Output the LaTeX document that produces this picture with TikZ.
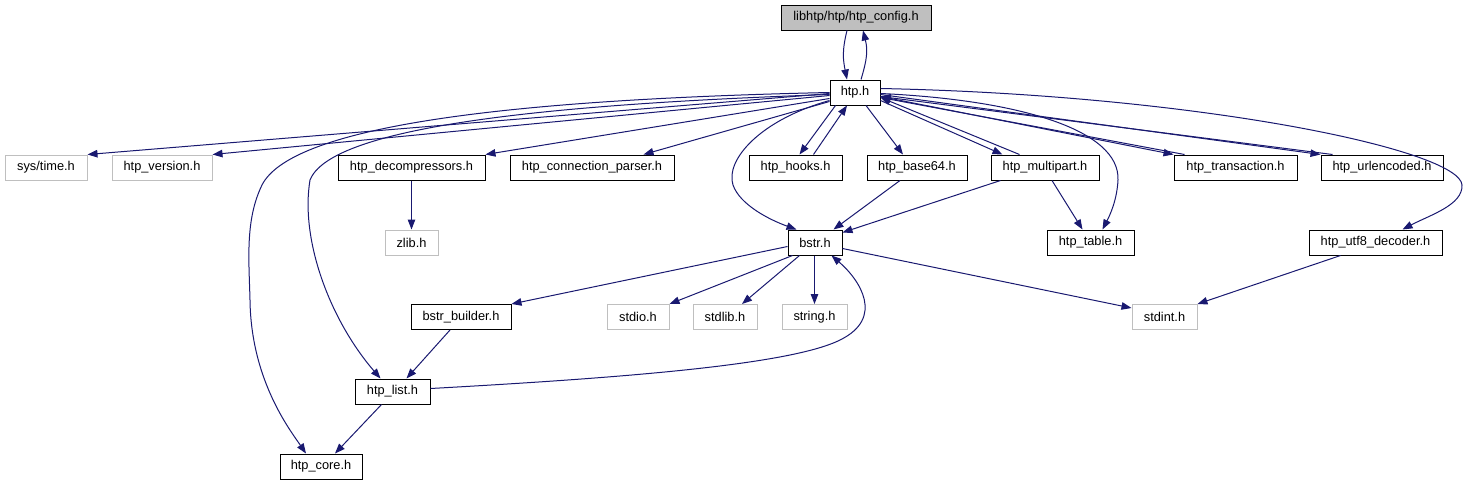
\documentclass[tikz,border=0pt]{standalone}
\usepackage{fontspec}
\setmainfont{Liberation Sans}
\usetikzlibrary{arrows.meta,calc}
\definecolor{edgec}{HTML}{191970}
\definecolor{greyb}{HTML}{BFBFBF}
\definecolor{cfgfill}{HTML}{BFBFBF}
\begin{document}
\begin{tikzpicture}[x=1pt,y=-1pt,
  box/.style={rectangle,draw=black,line width=1pt,fill=white,minimum height=25pt,inner sep=0pt,font=\fontsize{12.8}{14}\selectfont},
  sysbox/.style={box,draw=greyb},
  rootbox/.style={box,fill=cfgfill},
  edge/.style={draw=edgec,line width=1pt,-{Triangle[length=10pt,width=7.5pt]}}]
\useasboundingbox (0,0) rectangle (1467,485);
% nodes
\node[rootbox,minimum width=150pt] (config) at (856,17.5) {libhtp/htp/htp\_config.h};
\node[box,minimum width=50pt] (htp) at (855,92.5) {htp.h};
\node[sysbox,minimum width=82pt] (systime) at (46,167.5) {sys/time.h};
\node[sysbox,minimum width=100pt] (version) at (162,167.5) {htp\_version.h};
\node[box,minimum width=147pt] (decomp) at (411.5,167.5) {htp\_decompressors.h};
\node[box,minimum width=164pt] (connparser) at (592,167.5) {htp\_connection\_parser.h};
\node[box,minimum width=93pt] (hooks) at (795.5,167.5) {htp\_hooks.h};
\node[box,minimum width=100pt] (base64) at (917,167.5) {htp\_base64.h};
\node[box,minimum width=108pt] (multipart) at (1045,167.5) {htp\_multipart.h};
\node[box,minimum width=123pt] (transaction) at (1235.5,167.5) {htp\_transaction.h};
\node[box,minimum width=122pt] (urlencoded) at (1382,167.5) {htp\_urlencoded.h};
\node[sysbox,minimum width=53pt] (zlib) at (411.5,242.5) {zlib.h};
\node[box,minimum width=54pt] (bstr) at (815,242.5) {bstr.h};
\node[box,minimum width=87pt] (table) at (1090.5,242.5) {htp\_table.h};
\node[box,minimum width=133pt] (utf8) at (1375.5,242.5) {htp\_utf8\_decoder.h};
\node[box,minimum width=100pt] (builder) at (461,317) {bstr\_builder.h};
\node[sysbox,minimum width=62pt] (stdio) at (638,317) {stdio.h};
\node[sysbox,minimum width=64pt] (stdlib) at (725,317) {stdlib.h};
\node[sysbox,minimum width=65pt] (string) at (814.5,317) {string.h};
\node[sysbox,minimum width=65pt] (stdint) at (1164.5,317) {stdint.h};
\node[box,minimum width=75pt] (list) at (392.5,391.5) {htp\_list.h};
\node[box,minimum width=82pt] (core) at (321,466.5) {htp\_core.h};
% edges
\draw[edge] ($(config.south)+(-9,0)$) .. controls ($(config.south)+(-14,20)$) and ($(htp.north)+(-12,-20)$) .. ($(htp.north)+(-8,0)$);
\draw[edge] ($(htp.north)+(6,0)$) .. controls ($(htp.north)+(12,-20)$) and ($(config.south)+(12,20)$) .. ($(config.south)+(7,0)$);
\draw[edge] ($(htp.west)+(0,1)$) -- (systime.north east);
\draw[edge] ($(htp.west)+(0,3)$) -- (version.north east);
\draw[edge] ($(htp.west)+(0,6)$) -- (decomp.north east);
\draw[edge] ($(htp.west)+(0,9)$) -- ($(connparser.north east)+(-31,0)$);
\draw[edge] ($(htp.south west)+(6,0)$) -- ($(hooks.north)+(4,0)$);
\draw[edge] ($(hooks.north)+(18,0)$) -- ($(htp.south)+(-8,0)$);
\draw[edge] ($(htp.south)+(11,0)$) -- ($(base64.north)+(-14,0)$);
\draw[edge] ($(htp.east)+(0,8)$) -- ($(multipart.north west)+(12,0)$);
\draw[edge] ($(multipart.north west)+(29,0)$) -- ($(htp.east)+(0,5)$);
\draw[edge] ($(htp.east)+(0,4)$) -- (transaction.north west);
\draw[edge] ($(transaction.north west)+(11,0)$) -- ($(htp.east)+(0,5)$);
\draw[edge] ($(htp.east)+(0,2)$) -- (urlencoded.north west);
\draw[edge] ($(urlencoded.north west)+(12,0)$) -- ($(htp.east)+(0,4)$);
\draw[edge] ($(htp.east)+(0,1)$) .. controls (1020,100) and (1120,130) .. (1118,180) .. controls (1117,200) and (1110,215) .. ($(table.north)+(12,0)$);
\draw[edge] ($(htp.east)+(0,-4)$) .. controls (1200,95) and (1460,150) .. (1462,185) .. controls (1463,205) and (1430,215) .. ($(utf8.north)+(27,0)$);
\draw[edge] ($(htp.west)+(0,8)$) .. controls (760,120) and (725,160) .. (733,185) .. controls (740,205) and (770,220) .. ($(bstr.north west)+(9,0)$);
\draw[edge] ($(htp.west)+(0,2)$) .. controls (520,105) and (330,130) .. (310,180) .. controls (300,240) and (330,320) .. ($(list.north)+(-12,0)$);
\draw[edge] (htp.west) .. controls (480,100) and (290,130) .. (262,185) .. controls (245,220) and (249,260) .. (250,300) .. controls (251,380) and (290,430) .. ($(core.north)+(-15,0)$);
\draw[edge] (decomp.south) -- (zlib.north);
\draw[edge] ($(base64.south)+(-17,0)$) -- ($(bstr.north east)+(-9,0)$);
\draw[edge] ($(multipart.south west)+(10,0)$) -- ($(bstr.east)+(0,-10)$);
\draw[edge] ($(multipart.south)+(7,0)$) -- ($(table.north)+(-8,0)$);
\draw[edge] ($(utf8.south)+(-35,0)$) -- (stdint.north east);
\draw[edge] ($(bstr.west)+(0,4)$) -- (builder.north east);
\draw[edge] ($(bstr.south west)+(5,0)$) -- (stdio.north east);
\draw[edge] ($(bstr.south west)+(12,0)$) -- ($(stdlib.north)+(17,0)$);
\draw[edge] ($(bstr.south)+(-0.5,0)$) -- (string.north);
\draw[edge] ($(bstr.east)+(0,6)$) -- ($(stdint.north west)+(0,4)$);
\draw[edge] ($(list.east)+(0,-3)$) .. controls (620,378) and (790,365) .. (840,340) .. controls (885,318) and (860,280) .. ($(bstr.south east)+(-11,0)$);
\draw[edge] ($(builder.south)+(-11,0)$) -- ($(list.north)+(14,0)$);
\draw[edge] ($(list.south)+(-11,0)$) -- ($(core.north)+(14,0)$);
\end{tikzpicture}
\end{document}
